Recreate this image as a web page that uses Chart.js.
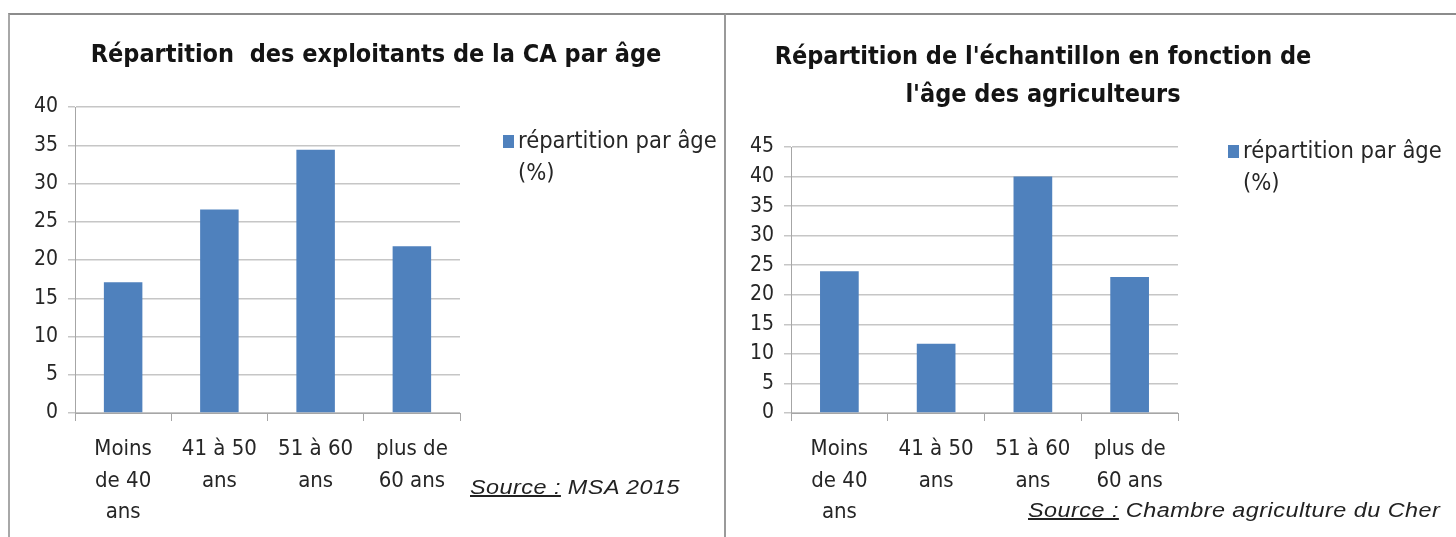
<!DOCTYPE html>
<html lang="fr">
<head>
    <meta charset="UTF-8">
    <title>Répartition par âge</title>
    <script src="https://cdn.jsdelivr.net/npm/chart.js"></script>
    <style>
        body { margin: 0; width: 1456px; height: 537px; background: #fff; position: relative; overflow: hidden; }
        .panel { position: absolute; box-sizing: border-box; }
        #panelLeft { left: 8px; top: 13px; width: 718px; height: 540px; border-top: 2px solid #8c8c8c; border-left: 2px solid #a8a8a8; border-right: 2px solid #9a9a9a; }
        #panelRight { left: 726px; top: 13px; width: 730px; height: 540px; border-top: 2px solid #8c8c8c; }
        canvas { position: absolute; }
        .legend { position: absolute; font-family: 'DejaVu Sans Condensed', sans-serif; font-size: 23.5px; color: #262626; line-height: 32px; white-space: nowrap; }
        .legend .box { position: absolute; left: -15px; top: 11px; width: 11px; height: 13px; background: #4f81bd; }
        .source { position: absolute; font-family: 'Liberation Sans', Arial, sans-serif; font-style: italic; font-size: 20px; letter-spacing: 0.4px; color: #222; white-space: nowrap; transform: scaleX(1.17); transform-origin: left center; }
        .source u { text-decoration: underline; }
    </style>
</head>
<body>
    <div class="panel" id="panelLeft"></div>
    <div class="panel" id="panelRight"></div>

    <canvas id="chartLeft" width="734" height="522" style="left:9px; top:15px;"></canvas>
    <canvas id="chartRight" width="630" height="522" style="left:728px; top:15px;"></canvas>

    <div class="legend" style="left:518px; top:124px;"><span class="box"></span>répartition par âge<br>(%)</div>
    <div class="legend" style="left:1243px; top:134px;"><span class="box"></span>répartition par âge<br>(%)</div>

    <div class="source" style="left:470px; top:476px;"><u>Source :</u> MSA 2015</div>
    <div class="source" style="left:1028px; top:499px;"><u>Source :</u> Chambre agriculture du Cher</div>

    <script>
        const categories = [
            ['Moins', 'de 40', 'ans'],
            ['41 à 50', 'ans'],
            ['51 à 60', 'ans'],
            ['plus de', '60 ans']
        ];
        const seriesLabel = 'répartition par âge (%)';
        const valuesMSA = [17.1, 26.6, 34.4, 21.8];
        const valuesCher = [24, 11.7, 40, 23];
        const titleMSA = 'Répartition  des exploitants de la CA par âge';
        const titleCher = ["Répartition de l'échantillon en fonction de", "l'âge des agriculteurs"];

        const narrow = "'DejaVu Sans Condensed', sans-serif";
        const barColor = '#4f81bd';
        const gridColor = '#c6c6c6';
        const axisColor = '#a6a6a6';
        const textColor = '#262626';

        function makeChart(canvas, values, title, yMax, opts) {
            return new Chart(canvas, {
                type: 'bar',
                data: {
                    labels: categories,
                    datasets: [{
                        label: seriesLabel,
                        data: values,
                        backgroundColor: barColor,
                        borderWidth: 0,
                        barPercentage: 0.4,
                        categoryPercentage: 1
                    }]
                },
                options: {
                    responsive: false,
                    animation: false,
                    layout: { padding: 0 },
                    plugins: {
                        legend: { display: false },
                        tooltip: { enabled: false },
                        title: {
                            display: true,
                            text: title,
                            color: '#141414',
                            font: { family: narrow, size: 25, weight: 'bold', lineHeight: opts.titleLH },
                            padding: { top: opts.titleTop, bottom: opts.titleBottom }
                        }
                    },
                    scales: {
                        x: {
                            grid: { drawOnChartArea: false, drawTicks: true, tickLength: 8, color: axisColor, offset: true },
                            border: { color: axisColor, width: 1 },
                            ticks: { color: textColor, font: { family: narrow, size: 22, lineHeight: 1.42 }, padding: 13, maxRotation: 0, autoSkip: false },
                            afterFit: s => { s.height = 124; }
                        },
                        y: {
                            min: 0,
                            max: yMax,
                            grid: { color: gridColor, lineWidth: 1.5, tickLength: 7 },
                            border: { color: axisColor, width: 1 },
                            ticks: { stepSize: 5, color: textColor, font: { family: narrow, size: 21 }, padding: 10 },
                            afterFit: s => { s.width = opts.yWidth; }
                        },
                        // empty axis on the right keeps room for the legend without squeezing the title
                        room: {
                            position: 'right',
                            grid: { display: false },
                            border: { display: false },
                            ticks: { display: false },
                            afterFit: s => { s.width = opts.padRight; }
                        }
                    }
                }
            });
        }

        makeChart(document.getElementById('chartLeft'), valuesMSA, titleMSA, 40,
            { padRight: 283, yWidth: 66, titleLH: 1.2, titleTop: 25, titleBottom: 37 });
        makeChart(document.getElementById('chartRight'), valuesCher, titleCher, 45,
            { padRight: 180, yWidth: 63, titleLH: 1.52, titleTop: 23, titleBottom: 33 });
    </script>
</body>
</html>
